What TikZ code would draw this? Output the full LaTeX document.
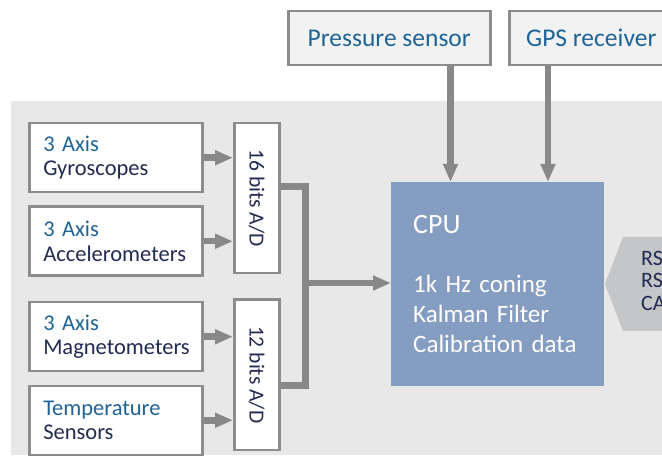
\documentclass[tikz,border=0pt]{standalone}
\usepackage{fontspec}
\setmainfont{Carlito}
\usetikzlibrary{arrows.meta,positioning}
\definecolor{bggray}{HTML}{E8E8E8}
\definecolor{edgegray}{HTML}{8C8C8C}
\definecolor{arrowgray}{HTML}{888888}
\definecolor{topfill}{HTML}{F2F2F2}
\definecolor{cpublue}{HTML}{849DC1}
\definecolor{rsgray}{HTML}{C5C6C8}
\definecolor{navy}{HTML}{222B51}
\definecolor{axisblue}{HTML}{1F6496}
\begin{document}
\begin{tikzpicture}[x=1pt,y=-1pt,line join=miter,
	every node/.style={font=\fontsize{21.5}{24}\selectfont,text=navy},
	sensor/.style={draw=edgegray,line width=2.5pt,fill=white,minimum width=173pt,minimum height=69pt,text width=145pt,align=left,inner sep=0pt,anchor=north west,font=\fontsize{22.5}{24.5}\selectfont},
	adc/.style={draw=edgegray,line width=2.5pt,fill=white,minimum width=45pt,minimum height=150pt,inner sep=0pt,anchor=north west},
	topbox/.style={draw=edgegray,line width=2.5pt,fill=topfill,minimum height=54pt,inner sep=0pt,anchor=north west,text=axisblue,font=\fontsize{25.5}{30}\selectfont},
	cpubox/.style={fill=cpublue,minimum width=213pt,minimum height=204pt,text width=169pt,align=left,inner sep=0pt,anchor=north west,text=white,font=\fontsize{25}{30}\selectfont},
	feed/.style={draw=arrowgray,line width=6.5pt,-{Triangle[length=18pt,width=14pt]}},
	bus/.style={draw=arrowgray,line width=7pt}]
	\clip (0,0) rectangle (662,457);
	% housing
	\fill[bggray] (11,101) rectangle (662,455);
	% sensors
	\node[sensor] (gyro) at (28,122) {\textcolor{axisblue}{3 Axis}\\Gyroscopes};
	\node[sensor,below=12pt of gyro] (accel) {\textcolor{axisblue}{3 Axis}\\Accelerometers};
	\node[sensor,below=24pt of accel] (magnet) {\textcolor{axisblue}{3 Axis}\\Magnetometers};
	\node[sensor,below=12pt of magnet] (temp) {\textcolor{axisblue}{Temperature}\\Sensors};
	% converters
	\node[adc] (adA) at (233,122) {};
	\node[adc,below=24pt of adA] (adB) {};
	\node[rotate=-90] (adAtext) at (adA) {16 bits A/D};
	\node[rotate=-90] (adBtext) at (adB) {12 bits A/D};
	% processor and external inputs
	\node[cpubox] (cpu) at (391,182) {{\fontsize{28}{30}\selectfont CPU}\\[29pt]1k Hz coning\\Kalman Filter\\Calibration data};
	\node[topbox,minimum width=202pt] (press) at (287,10) {Pressure sensor};
	\node[topbox,minimum width=164pt] (gps) at (508,10) {GPS receiver};
	\fill[rsgray] (605,284) -- (623,237) -- (670,237) -- (670,331) -- (623,331) -- cycle;
	\node[anchor=north west,align=left,inner sep=0pt,font=\fontsize{22}{22.5}\selectfont] (ports) at (641,251) {RS\\RS\\CA};
	% connectors
	\foreach \s/\a in {gyro/adA,accel/adA,magnet/adB,temp/adB}{
		\draw[feed] (\s.east) -- (\s.east -| \a.west);
	}
	\coordinate (bend) at (305,283);
	\draw[bus] ([yshift=12pt]adA.east) -| (bend) |- ([yshift=-11pt]adB.east);
	\draw[feed] (bend) -- (bend -| cpu.west);
	\coordinate (pressout) at ([xshift=-41pt]press.south east);
	\coordinate (gpsout) at ([xshift=40pt]gps.south west);
	\draw[feed] (pressout) -- (pressout |- cpu.north);
	\draw[feed] (gpsout) -- (gpsout |- cpu.north);
\end{tikzpicture}
\end{document}
